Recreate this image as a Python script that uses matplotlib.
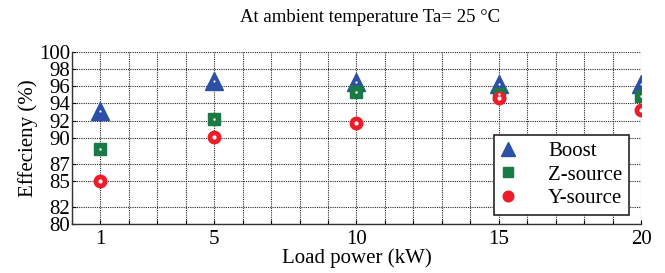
import matplotlib
matplotlib.use("Agg")
import matplotlib.pyplot as plt
from matplotlib.ticker import FixedLocator, MultipleLocator
from matplotlib.legend_handler import HandlerTuple

plt.rcParams['font.family'] = ['Liberation Serif', 'DejaVu Serif']
plt.rcParams['mathtext.fontset'] = 'stix'

load_kw = [1, 5, 10, 15, 20]
boost = [93.1, 96.6, 96.5, 96.3, 96.2]
zsource = [88.7, 92.2, 95.35, 95.1, 94.9]
ysource = [85.0, 90.05, 91.7, 94.65, 93.2]
x_ticks = [1, 5, 10, 15, 20]
y_ticks = [80, 82, 85, 87, 90, 92, 94, 96, 98, 100]

fig = plt.figure(figsize=(6.65, 2.73), dpi=100)
ax = fig.add_axes([0.108, 0.179, 0.856, 0.632])

blue = '#2b50a5'
green = '#1a7a45'
red = '#ee1c2a'

h1, = ax.plot(load_kw, boost, linestyle='none', marker='^', markersize=12.5,
              color=blue, markeredgecolor=blue, zorder=3)
h2, = ax.plot(load_kw, zsource, linestyle='none', marker='s', markersize=8,
              color=green, markeredgecolor=green, zorder=4)
h3, = ax.plot(load_kw, ysource, linestyle='none', marker='o', markersize=9,
              color=red, markeredgecolor=red, zorder=5)
w1, = ax.plot(load_kw, boost, linestyle='none', marker='o', markersize=1.6,
              color='white', markeredgewidth=0, zorder=6)
w2, = ax.plot(load_kw, zsource, linestyle='none', marker='o', markersize=1.8,
              color='white', markeredgewidth=0, zorder=6)
w3, = ax.plot(load_kw, ysource, linestyle='none', marker='o', markersize=3,
              color='white', markeredgewidth=0, zorder=6)

ax.set_xlim(0, 20)
ax.set_ylim(80, 100)
ax.xaxis.set_major_locator(FixedLocator(x_ticks))
ax.xaxis.set_minor_locator(MultipleLocator(1))
ax.yaxis.set_major_locator(FixedLocator(y_ticks))
ax.tick_params(axis='both', which='both', direction='in', length=3, width=0.8,
               labelsize=15, pad=4)
ax.tick_params(axis='y', pad=1)
ax.grid(True, which='both', axis='x', color='0.15', linestyle=(0, (1, 1)), linewidth=0.8)
ax.grid(True, which='major', axis='y', color='0.15', linestyle=(0, (1, 1)), linewidth=0.8)
ax.set_axisbelow(True)
for s in ['top', 'right']:
    ax.spines[s].set_visible(False)
for s in ['left', 'bottom']:
    ax.spines[s].set_linewidth(1.0)
    ax.spines[s].set_color('0.2')

ax.set_xlabel('Load power (kW)', fontsize=15, labelpad=0)
ax.set_ylabel('Effecieny (%)', fontsize=15, labelpad=1)
fig.text(0.557, 0.935, 'At ambient temperature Ta= 25 \u00b0C', fontsize=13.5,
         ha='center', va='center')

leg = ax.legend([(h1, w1), (h2, w2), (h3, w3)], ['Boost', 'Z-source', 'Y-source'],
                handler_map={tuple: HandlerTuple(ndivide=None)},
                loc='lower right', bbox_to_anchor=(0.978, 0.055),
                fontsize=15, frameon=True, fancybox=False, framealpha=1,
                edgecolor='0.15', borderpad=0.3, labelspacing=0.2,
                handletextpad=0.5, handlelength=1.8, borderaxespad=0,
                markerscale=0.85)
leg.get_frame().set_linewidth(1.2)
leg.set_zorder(10)

fig.savefig('out.png', dpi=100)
